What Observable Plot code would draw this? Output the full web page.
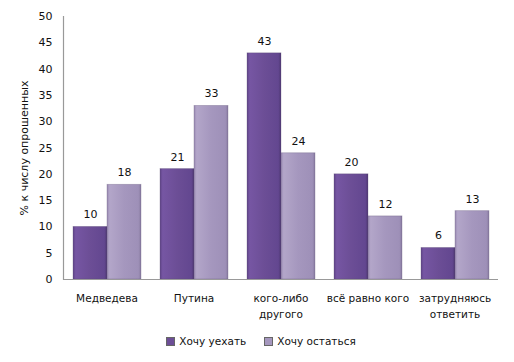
<!DOCTYPE html>
<html><head><meta charset="utf-8">
<script src="https://cdn.jsdelivr.net/npm/d3@7"></script>
<script src="https://cdn.jsdelivr.net/npm/@observablehq/plot@0.6"></script>
<style>
body{margin:0;background:#fff;font-family:"DejaVu Sans",sans-serif;}
#legend{display:flex;justify-content:center;gap:18px;font-size:10.5px;color:#111;margin-top:10px;margin-left:8px}
#legend span{display:inline-flex;align-items:center;gap:4px}
#legend i{display:inline-block;width:7px;height:7px;border:1px solid #666}
</style></head><body>
<div id="chart"></div>
<div id="legend"></div>
<script>
const categories = ["Медведева", "Путина", "кого-либо\nдругого", "всё равно кого", "затрудняюсь\nответить"];
const series = ["Хочу уехать", "Хочу остаться"];
const leave = [10, 21, 43, 20, 6];
const stay = [18, 33, 24, 12, 13];
const colors = ["#6c4e96", "#a597be"];
const yTicks = [0, 5, 10, 15, 20, 25, 30, 35, 40, 45, 50];

const data = [];
categories.forEach((c, i) => {
  data.push({cat: c, s: series[0], v: leave[i]});
  data.push({cat: c, s: series[1], v: stay[i]});
});

const chart = Plot.plot({
  width: 514, height: 325,
  marginLeft: 63, marginRight: 16, marginTop: 16, marginBottom: 46,
  style: {fontFamily: "DejaVu Sans, sans-serif", fontSize: "11px", color: "#111"},
  fx: {domain: categories, padding: 0, label: null},
  x: {domain: series, axis: null, paddingInner: 0, paddingOuter: 0.243},
  y: {domain: [0, 50], ticks: yTicks, tickSize: 0, tickPadding: 11, label: "% к числу опрошенных", labelAnchor: "center", labelArrow: "none", labelOffset: 43},
  color: {domain: series, range: ["url(#gDark)", "url(#gLight)"]},
  marks: [
    Plot.axisFx({anchor: "bottom", tickSize: 0, tickPadding: 12, label: null, lineHeight: 1.45, fontSize: 10.5}),
    Plot.barY(data, {fx: "cat", x: "s", y: "v", fill: "s", stroke: "#5a4a70", strokeOpacity: 0.35, strokeWidth: 0.8}),
    Plot.text(data, {fx: "cat", x: "s", y: "v", text: d => String(d.v), dy: -12, fill: "#111", fontSize: 11}),
    Plot.ruleY([0], {stroke: "#999", strokeWidth: 1.2}),
    Plot.frame({anchor: "left", facetAnchor: "left", stroke: "#999", strokeWidth: 1.2})
  ]
});

const svg = d3.select(chart);
const defs = svg.insert("defs", ":first-child");
function grad(id, stops) {
  const g = defs.append("linearGradient").attr("id", id).attr("x1", 0).attr("x2", 1).attr("y1", 0).attr("y2", 0);
  stops.forEach(([o, c]) => g.append("stop").attr("offset", o).attr("stop-color", c));
}
grad("gDark", [[0, "#5f4488"], [0.08, "#7656a3"], [0.5, "#6c4e96"], [0.92, "#634790"], [1, "#4f3874"]]);
grad("gLight", [[0, "#9a8bb3"], [0.08, "#b3a6c9"], [0.5, "#a597be"], [0.92, "#9e90b8"], [1, "#8a7da2"]]);

document.getElementById("chart").appendChild(chart);

const legend = document.getElementById("legend");
series.forEach((s, i) => {
  const span = document.createElement("span");
  const sw = document.createElement("i");
  sw.style.background = colors[i];
  span.appendChild(sw);
  span.appendChild(document.createTextNode(s));
  legend.appendChild(span);
});
</script>
</body></html>
